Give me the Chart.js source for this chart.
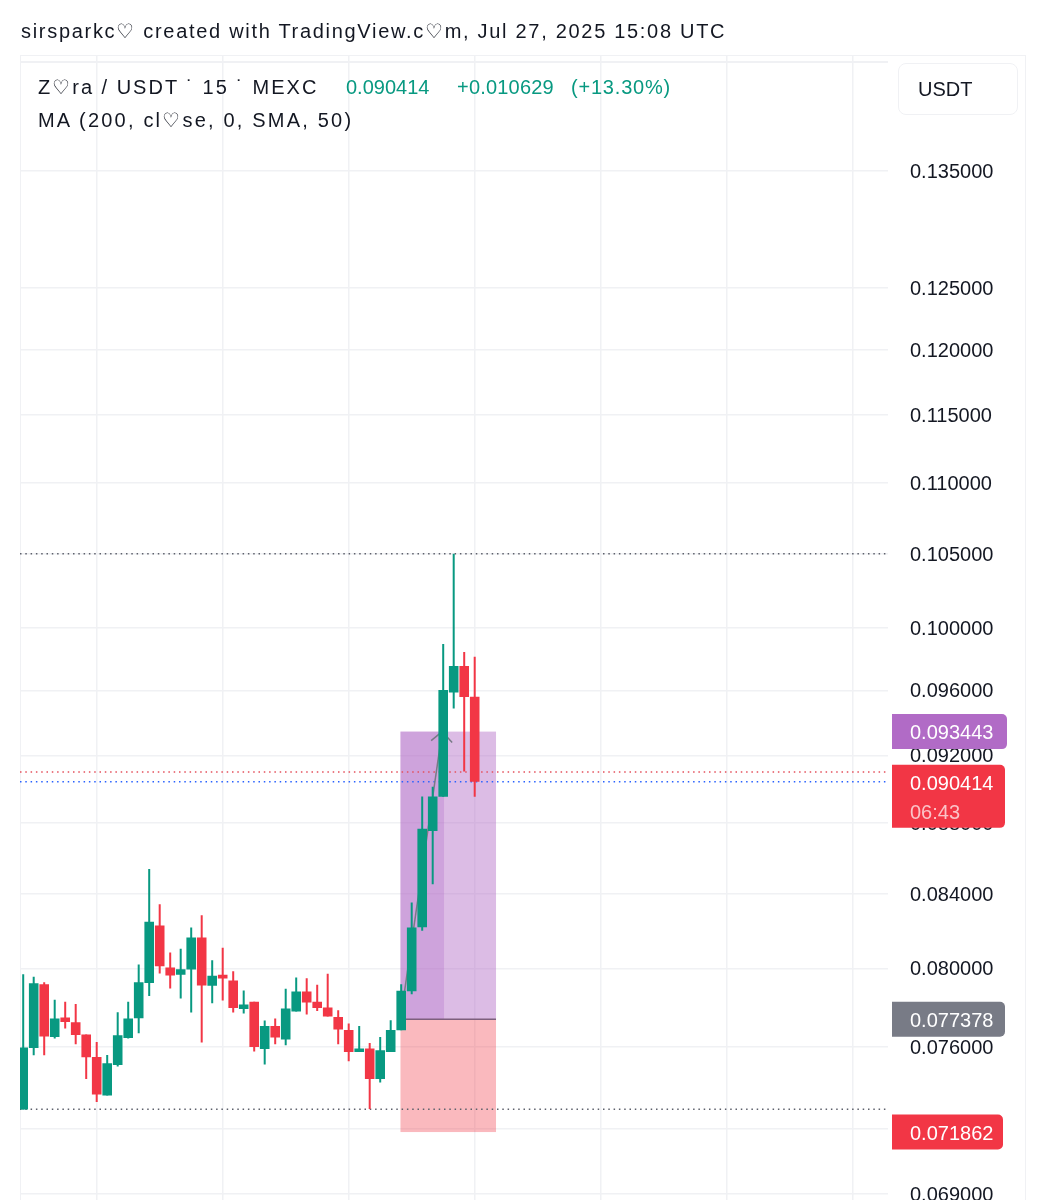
<!DOCTYPE html>
<html>
<head>
<meta charset="utf-8">
<script src="https://cdn.jsdelivr.net/npm/chart.js@4/dist/chart.umd.min.js"></script>
<style>
html,body{margin:0;padding:0;background:#fff;width:1046px;height:1200px;overflow:hidden}
#wrap{position:relative;width:1046px;height:1200px;overflow:hidden}
canvas{position:absolute;left:0;top:0}
.t{position:absolute;white-space:nowrap;font-family:"Liberation Sans",sans-serif;font-size:20px;line-height:26px;color:#131722}
.g{color:#089981}
#frame{position:absolute;left:20px;top:55px;width:1006px;height:1200px;border:1.5px solid #f0f1f4;box-sizing:border-box}
#line2{position:absolute;left:20px;top:61px;width:868px;height:1.5px;background:#f0f1f4}
#btn{position:absolute;left:898px;top:63px;width:120px;height:52px;border:1.5px solid #f0f1f4;border-radius:8px;box-sizing:border-box}
</style>
</head>
<body>
<div id="wrap">
<div id="frame"></div>
<canvas id="c" width="1046" height="1200" style="width:1046px;height:1200px"></canvas>
<div id="line2"></div>
<div id="btn"></div>
<div class="t" style="left:21px;top:18px;letter-spacing:1.7px">sirsparkc♡ created with TradingView.c♡m, Jul 27, 2025 15:08 UTC</div>
<div class="t" style="left:38px;top:74px;letter-spacing:2px">Z♡ra / USDT ˙ 15 ˙ MEXC</div>
<div class="t g" style="left:346px;top:74px">0.090414</div>
<div class="t g" style="left:457px;top:74px;letter-spacing:.2px">+0.010629</div>
<div class="t g" style="left:571px;top:74px;letter-spacing:.8px">(+13.30%)</div>
<div class="t" style="left:38px;top:107px;letter-spacing:2.2px">MA (200, cl♡se, 0, SMA, 50)</div>
<div class="t" style="left:918px;top:76px">USDT</div>
</div>
<script>
// candle data (price)
const opens  = [0.072928,0.075938,0.079178,0.076489,0.077465,0.077228,0.076606,0.075492,0.073600,0.075097,0.076438,0.077432,0.079247,0.082286,0.080049,0.079665,0.079944,0.081640,0.079092,0.079665,0.079369,0.077907,0.078266,0.075889,0.077043,0.076355,0.077771,0.078798,0.078266,0.077976,0.077499,0.076841,0.075740,0.075906,0.074410,0.075740,0.076824,0.078815,0.082196,0.087542,0.089534,0.095877,0.097551,0.095607];
const highs  = [0.079699,0.079560,0.079282,0.078369,0.078266,0.078163,0.076606,0.076238,0.075590,0.077737,0.078266,0.080207,0.085385,0.083446,0.080841,0.081035,0.082178,0.082846,0.080435,0.081089,0.079857,0.078850,0.078266,0.077314,0.077414,0.078936,0.079526,0.079490,0.079144,0.079718,0.077839,0.077161,0.077043,0.076188,0.076489,0.077330,0.079178,0.083537,0.089553,0.090124,0.098970,0.105000,0.098453,0.098149];
const lows   = [0.072928,0.075574,0.075574,0.076405,0.076909,0.076122,0.074410,0.073295,0.073600,0.075014,0.076405,0.076673,0.078574,0.079734,0.078954,0.078437,0.077720,0.076205,0.078198,0.078334,0.077720,0.077669,0.075756,0.075113,0.076122,0.076071,0.077771,0.077618,0.077805,0.077516,0.076122,0.075278,0.075740,0.072959,0.074230,0.075740,0.076824,0.078660,0.081998,0.084548,0.089534,0.094876,0.091034,0.089534];
const closes = [0.075955,0.079230,0.076506,0.077414,0.077246,0.076589,0.075475,0.073649,0.075178,0.076572,0.077414,0.079282,0.082484,0.080119,0.079630,0.079962,0.081640,0.079109,0.079612,0.079473,0.077958,0.078129,0.075989,0.077043,0.076455,0.077924,0.078798,0.078232,0.077958,0.077516,0.076858,0.075740,0.075906,0.074410,0.075822,0.076841,0.078833,0.082178,0.087674,0.089553,0.096028,0.097551,0.095588,0.090414];
const yTicks = [0.135,0.125,0.12,0.115,0.11,0.105,0.1,0.096,0.092,0.088,0.084,0.08,0.076,0.072,0.069];
const xGrid  = [7,19,31,43,55,67,79];
const highLine = 0.105, lowLine = 0.07295, redLine = 0.0910, lastPrice = 0.090414;
const target = 0.093443, entry = 0.077378, stop = 0.071862;
const posX = [35.93,40.08,45.03];
const arrowX = [35.93,39.9], arrowY = [0.077378,0.093443];
const countdown = "06:43";

const GREEN="#089981", RED="#f23645", FONT='"Liberation Sans",sans-serif';
const xMin=-0.305, xMax=82.362;
const idx = opens.map((_,i)=>i);
const colors = idx.map(i=>closes[i]>=opens[i]?GREEN:RED);
const hline=(v,color)=>({type:'line',data:[{x:xMin,y:v},{x:xMax,y:v}],borderColor:color,borderWidth:1.5,borderDash:[1.5,3.8],pointRadius:0,order:5});

const overlay={id:'overlay',
 beforeDatasetsDraw(ch){
  const {ctx,scales:{x,y}}=ch;
  const px=posX.map(v=>x.getPixelForValue(v));
  const yT=y.getPixelForValue(target),yE=y.getPixelForValue(entry),yS=y.getPixelForValue(stop);
  ctx.save();
  ctx.fillStyle='rgba(177,107,198,.45)';ctx.fillRect(px[0],yT,px[2]-px[0],yE-yT);
  ctx.fillStyle='rgba(177,107,198,.30)';ctx.fillRect(px[0],yT,px[1]-px[0],yE-yT);
  ctx.fillStyle='rgba(242,54,69,.35)';ctx.fillRect(px[0],yE,px[2]-px[0],yS-yE);
  ctx.strokeStyle='#7d5f7d';ctx.lineWidth=1.5;ctx.beginPath();ctx.moveTo(px[0],yE);ctx.lineTo(px[2],yE);ctx.stroke();
  ctx.strokeStyle='#787b86';ctx.beginPath();
  const ax=x.getPixelForValue(arrowX[1]),ay=y.getPixelForValue(arrowY[1]);
  ctx.moveTo(ax-11,ay+9);ctx.lineTo(ax,ay);ctx.lineTo(ax+10,ay+11);ctx.stroke();
  ctx.restore();
 },
 afterDraw(ch){
  const {ctx,scales:{y}}=ch;
  const badge=(x0,x1,top,bot,color,lines)=>{
   ctx.save();ctx.fillStyle=color;ctx.beginPath();
   ctx.roundRect(x0,top,x1-x0,bot-top,[0,5,5,0]);ctx.fill();
   ctx.textBaseline='middle';ctx.textAlign='left';ctx.font='20px '+FONT;
   lines.forEach(([t,yy,c])=>{ctx.fillStyle=c;ctx.fillText(t,910,yy);});
   ctx.restore();
  };
  const t=y.getPixelForValue(target),l=y.getPixelForValue(lastPrice),e=y.getPixelForValue(entry),s=y.getPixelForValue(stop);
  badge(892,1007,t-17.5,t+17.5,'#b16bc6',[[target.toFixed(6),t+2,'#fff']]);
  badge(892,1005,l-17,l+46,RED,[[lastPrice.toFixed(6),l+3,'#fff'],[countdown,l+32,'rgba(255,255,255,.7)']]);
  badge(892,1005,e-17.5,e+17.5,'#787b86',[[entry.toFixed(6),e+2,'#fff']]);
  badge(892,1003,s-17.5,s+17.5,RED,[[stop.toFixed(6),s+2,'#fff']]);
 }};

new Chart(document.getElementById('c'),{
 type:'bar',
 plugins:[overlay],
 data:{datasets:[
  {type:'bar',data:idx.map(i=>({x:i,y:[opens[i],closes[i]]})),backgroundColor:colors,barThickness:9.6,grouped:false,order:1,inflateAmount:0},
  {type:'bar',data:idx.map(i=>({x:i,y:[lows[i],highs[i]]})),backgroundColor:colors,barThickness:2,grouped:false,order:2,inflateAmount:0},
  {type:'line',data:arrowX.map((v,i)=>({x:v,y:arrowY[i]})),borderColor:'#787b86',borderWidth:1.5,pointRadius:0,order:4},
  hline(highLine,'#5d606b'),hline(lowLine,'#5d606b'),hline(redLine,'#e5505c'),hline(lastPrice,'#2962ff')
 ]},
 options:{
  responsive:false,animation:false,devicePixelRatio:1,
  layout:{padding:{left:20,top:55.5,right:0,bottom:0}},
  plugins:{legend:{display:false},tooltip:{enabled:false},title:{display:false}},
  scales:{
   x:{type:'linear',min:xMin,max:xMax,offset:false,
      afterBuildTicks(s){s.ticks=xGrid.map(v=>({value:v}));},
      grid:{color:'#f0f1f4',lineWidth:1.5,drawTicks:false,offset:false},border:{display:false},
      ticks:{display:false}},
   y:{type:'logarithmic',position:'right',bounds:'data',min:0.06873,max:0.14558,
      afterBuildTicks(s){s.ticks=yTicks.map(v=>({value:v}));},
      afterFit(s){s.width=158;s.paddingTop=0;s.paddingBottom=0;},
      grid:{color:'#f0f1f4',lineWidth:1.5,drawTicks:false},border:{display:false},
      ticks:{autoSkip:false,padding:22,crossAlign:'near',labelOffset:1.5,color:'#131722',font:{family:FONT,size:20},
             callback:v=>Number(v).toFixed(6)}}
  }
 }
});
</script>
</body>
</html>
